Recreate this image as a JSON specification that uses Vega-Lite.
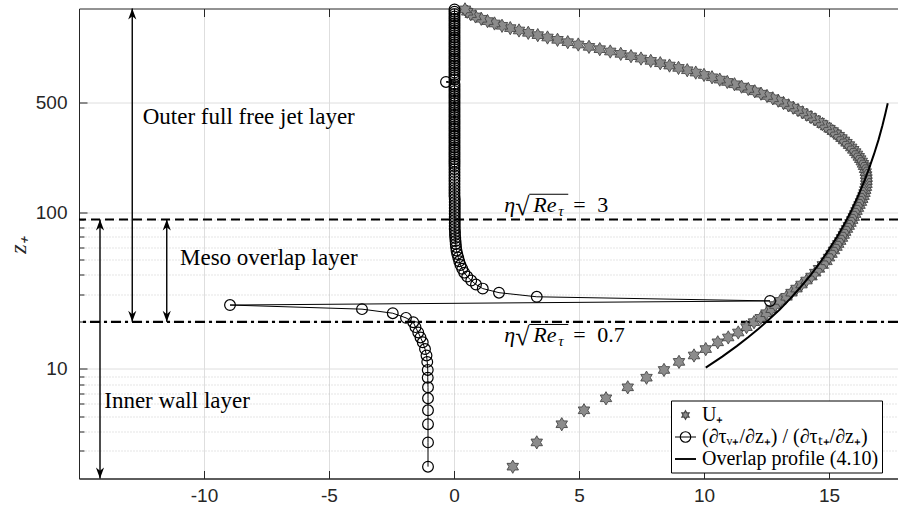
{
  "$schema": "https://vega.github.io/schema/vega-lite/v6.json",
  "width": 819,
  "height": 470,
  "autosize": {"type": "none"},
  "padding": {"left": 79, "top": 8.5, "right": 0, "bottom": 26.5},
  "background": "white",
  "config": {
    "view": {"stroke": "#262626", "strokeWidth": 1},
    "axis": {"labelFont": "Liberation Sans", "labelFontSize": 19, "labelColor": "#262626", "tickColor": "#262626", "domainColor": "#262626", "tickWidth": 1, "domainWidth": 1},
    "legend": {"orient": "none", "legendX": 592, "legendY": 392, "strokeColor": "black", "strokeWidth": 1, "fillColor": "white", "padding": 3, "labelFont": "Liberation Serif", "labelFontSize": 20, "labelColor": "black", "labelLimit": 400, "symbolSize": 441, "symbolStrokeWidth": 1.2, "labelOffset": 5, "rowPadding": 0}
  },
  "datasets": {
    "levels": [{"eta": "3", "z": 90}, {"eta": "0.7", "z": 20}],
    "arrows": [{"x": -14.16, "z": 2, "z2": 90}, {"x": -12.87, "z": 20, "z2": 2000}, {"x": -11.49, "z": 20, "z2": 90}],
    "notes": [{"x": -12.45, "z": 366, "text": "Outer full free jet layer"}, {"x": -10.96, "z": 46.1, "text": "Meso overlap layer"}, {"x": -13.99, "z": 5.61, "text": "Inner wall layer"}],
    "eta": [{"x": 2.01, "z": 101, "val": "3"}, {"x": 2.01, "z": 14.9, "val": "0.7"}],
    "overlap": [{"x": 10.07, "z": 10.2}, {"x": 10.73, "z": 12}, {"x": 11.31, "z": 14}, {"x": 11.78, "z": 16}, {"x": 12.17, "z": 18}, {"x": 12.5, "z": 20}, {"x": 13.03, "z": 24}, {"x": 13.44, "z": 28}, {"x": 13.84, "z": 33}, {"x": 14.28, "z": 40}, {"x": 14.65, "z": 48}, {"x": 15.0, "z": 58}, {"x": 15.33, "z": 70}, {"x": 15.63, "z": 85}, {"x": 15.86, "z": 100}, {"x": 16.14, "z": 125}, {"x": 16.39, "z": 155}, {"x": 16.6, "z": 190}, {"x": 16.8, "z": 235}, {"x": 16.98, "z": 290}, {"x": 17.14, "z": 360}, {"x": 17.26, "z": 430}, {"x": 17.35, "z": 497}],
    "prof": [
      {"z": 2.38, "U": 2.35, "R": -1.04}, {"z": 3.4, "U": 3.31, "R": -1.04}, {"z": 4.44, "U": 4.31, "R": -1.04}, {"z": 5.45, "U": 5.2, "R": -1.04}, {"z": 6.5, "U": 6.08, "R": -1.04}, {"z": 7.64, "U": 6.95, "R": -1.04}, {"z": 8.8, "U": 7.7, "R": -1.05}, {"z": 9.86, "U": 8.4, "R": -1.05}, {"z": 11.1, "U": 9.0, "R": -1.07}, {"z": 12.2, "U": 9.6, "R": -1.1}, {"z": 13.4, "U": 10.07, "R": -1.16}, {"z": 14.8, "U": 10.55, "R": -1.25}, {"z": 15.9, "U": 10.97, "R": -1.34}, {"z": 17.1, "U": 11.37, "R": -1.43}, {"z": 18.5, "U": 11.7, "R": -1.54}, {"z": 19.9, "U": 12.0, "R": -1.63}, {"z": 21.2, "U": 12.27, "R": -1.92}, {"z": 22.7, "U": 12.5, "R": -2.45}, {"z": 24.1, "U": 12.7, "R": -3.68}, {"z": 25.6, "U": 12.85, "R": -8.96},
      {"z": 27.2, "U": 13.05, "R": 12.64}, {"z": 28.9, "U": 13.3, "R": 3.31}, {"z": 30.7, "U": 13.5, "R": 1.8}, {"z": 32.6, "U": 13.7, "R": 1.15}, {"z": 34.6, "U": 13.9, "R": 0.88}, {"z": 36.7, "U": 14.1, "R": 0.69}, {"z": 38.9, "U": 14.3, "R": 0.53}, {"z": 41.2, "U": 14.45, "R": 0.41}, {"z": 43.6, "U": 14.6, "R": 0.33}, {"z": 46.1, "U": 14.75, "R": 0.26}, {"z": 48.7, "U": 14.9, "R": 0.21}, {"z": 51.4, "U": 15.0, "R": 0.17}, {"z": 54.2, "U": 15.1, "R": 0.13}, {"z": 57.1, "U": 15.2, "R": 0.1}, {"z": 60.1, "U": 15.3, "R": 0.08}, {"z": 62.8, "U": 15.37, "R": 0.07}, {"z": 65.6, "U": 15.45, "R": 0.06}, {"z": 68.6, "U": 15.52, "R": 0.05}, {"z": 71.7, "U": 15.59, "R": 0.04}, {"z": 74.9, "U": 15.65, "R": 0.04},
      {"z": 78.3, "U": 15.72, "R": 0.03}, {"z": 81.8, "U": 15.79, "R": 0.03}, {"z": 85.5, "U": 15.86, "R": 0.03}, {"z": 89.3, "U": 15.93, "R": 0.03}, {"z": 93.3, "U": 15.99, "R": 0.03}, {"z": 97.5, "U": 16.05, "R": 0.03}, {"z": 101.9, "U": 16.1, "R": 0.03}, {"z": 106.5, "U": 16.16, "R": 0.03}, {"z": 111.3, "U": 16.22, "R": 0.03}, {"z": 116.3, "U": 16.28, "R": 0.03}, {"z": 121.5, "U": 16.33, "R": 0.03}, {"z": 127, "U": 16.38, "R": 0.02}, {"z": 132.7, "U": 16.42, "R": 0.02}, {"z": 138.7, "U": 16.45, "R": 0.02}, {"z": 144.9, "U": 16.48, "R": 0.02}, {"z": 151.4, "U": 16.5, "R": 0.02}, {"z": 158.2, "U": 16.5, "R": 0.02}, {"z": 165.3, "U": 16.5, "R": 0.02}, {"z": 172.7, "U": 16.49, "R": 0.02}, {"z": 180.5, "U": 16.47, "R": 0.02},
      {"z": 188.6, "U": 16.44, "R": 0.02}, {"z": 197.1, "U": 16.4, "R": 0.02}, {"z": 204, "U": 16.36, "R": 0.02}, {"z": 211, "U": 16.31, "R": 0.02}, {"z": 218.4, "U": 16.25, "R": 0.02}, {"z": 226, "U": 16.19, "R": 0.02}, {"z": 234, "U": 16.12, "R": 0.02}, {"z": 242.2, "U": 16.05, "R": 0.02}, {"z": 250.6, "U": 15.97, "R": 0.02}, {"z": 259.4, "U": 15.89, "R": 0.02}, {"z": 268.5, "U": 15.8, "R": 0.02}, {"z": 277.9, "U": 15.7, "R": 0.02}, {"z": 287.6, "U": 15.6, "R": 0.02}, {"z": 297.7, "U": 15.5, "R": 0.02}, {"z": 308.1, "U": 15.39, "R": 0.02}, {"z": 318.9, "U": 15.27, "R": 0.02}, {"z": 330, "U": 15.15, "R": 0.02}, {"z": 341.6, "U": 15.02, "R": 0.02}, {"z": 353.5, "U": 14.88, "R": 0.02}, {"z": 365.9, "U": 14.74, "R": 0.02},
      {"z": 378.7, "U": 14.59, "R": 0.02}, {"z": 392, "U": 14.44, "R": 0.02}, {"z": 405.7, "U": 14.28, "R": 0.02}, {"z": 419.9, "U": 14.11, "R": 0.02}, {"z": 434.6, "U": 13.94, "R": 0.02}, {"z": 449.8, "U": 13.76, "R": 0.02}, {"z": 465.5, "U": 13.57, "R": 0.02}, {"z": 481.8, "U": 13.38, "R": 0.02}, {"z": 498.7, "U": 13.18, "R": 0.02}, {"z": 516.1, "U": 12.97, "R": 0.02}, {"z": 534.2, "U": 12.75, "R": 0.02}, {"z": 552.9, "U": 12.52, "R": 0.02}, {"z": 572.2, "U": 12.28, "R": 0.02}, {"z": 592.2, "U": 12.03, "R": 0.02}, {"z": 612.9, "U": 11.77, "R": 0.02}, {"z": 634.4, "U": 11.5, "R": 0.02}, {"z": 656.6, "U": 11.22, "R": 0.02}, {"z": 679.6, "U": 10.93, "R": -0.32}, {"z": 703.4, "U": 10.63, "R": 0.02}, {"z": 728, "U": 10.32, "R": 0.02},
      {"z": 753.5, "U": 10.0, "R": 0.02}, {"z": 779.9, "U": 9.67, "R": 0.02}, {"z": 807.2, "U": 9.33, "R": 0.02}, {"z": 835.4, "U": 8.98, "R": 0.02}, {"z": 864.6, "U": 8.62, "R": 0.02}, {"z": 894.9, "U": 8.25, "R": 0.02}, {"z": 926.2, "U": 7.87, "R": 0.02}, {"z": 958.6, "U": 7.48, "R": 0.02}, {"z": 992.2, "U": 7.08, "R": 0.02}, {"z": 1027, "U": 6.67, "R": 0.02}, {"z": 1063, "U": 6.25, "R": 0.02}, {"z": 1100, "U": 5.83, "R": 0.02}, {"z": 1138, "U": 5.4, "R": 0.02}, {"z": 1178, "U": 4.97, "R": 0.02}, {"z": 1219, "U": 4.55, "R": 0.02}, {"z": 1262, "U": 4.14, "R": 0.02}, {"z": 1306, "U": 3.74, "R": 0.02}, {"z": 1352, "U": 3.35, "R": 0.02}, {"z": 1399, "U": 2.97, "R": 0.02}, {"z": 1448, "U": 2.6, "R": 0.02},
      {"z": 1499, "U": 2.25, "R": 0.02}, {"z": 1551, "U": 1.92, "R": 0.02}, {"z": 1605, "U": 1.62, "R": 0.02}, {"z": 1662, "U": 1.34, "R": 0.02}, {"z": 1720, "U": 1.09, "R": 0.02}, {"z": 1780, "U": 0.86, "R": 0.02}, {"z": 1842, "U": 0.67, "R": 0.02}, {"z": 1907, "U": 0.53, "R": 0.02}, {"z": 1974, "U": 0.44, "R": 0.02}
    ]
  },
  "resolve": {"axis": {"x": "independent", "y": "independent"}},
  "layer": [
    {
      "data": {"name": "levels"},
      "mark": {"type": "rule", "color": "black", "strokeWidth": 2.2},
      "encoding": {
        "y": {"field": "z", "type": "quantitative", "scale": {"type": "log", "domain": [2, 2000], "nice": false},
              "axis": {"orient": "left", "values": [3, 4, 5, 6, 7, 8, 9, 20, 30, 40, 50, 60, 70, 80, 90], "grid": true, "gridDash": [1, 2], "gridColor": "#bdbdbd", "gridWidth": 0.8, "labels": false, "domain": false, "ticks": true, "tickSize": -5, "title": null}},
        "strokeDash": {"field": "eta", "type": "nominal", "scale": {"domain": ["3", "0.7"], "range": [[9, 5], [10, 4, 3, 4]]}, "legend": null}
      }
    },
    {
      "data": {"name": "arrows"},
      "mark": {"type": "rule", "color": "black", "strokeWidth": 1.4},
      "encoding": {
        "x": {"field": "x", "type": "quantitative", "scale": {"domain": [-15, 17.76], "nice": false, "zero": false}, "axis": null},
        "y": {"field": "z", "type": "quantitative", "scale": {"type": "log", "domain": [2, 2000], "nice": false}, "axis": null},
        "y2": {"field": "z2"}
      }
    },
    {
      "data": {"name": "arrows"},
      "mark": {"type": "point", "shape": "M0,0L0.37,1L0,0.7L-0.37,1Z", "size": 484, "filled": true, "color": "black", "opacity": 1},
      "encoding": {
        "x": {"field": "x", "type": "quantitative", "scale": {"domain": [-15, 17.76], "nice": false, "zero": false}, "axis": null},
        "y": {"field": "z2", "type": "quantitative", "scale": {"type": "log", "domain": [2, 2000], "nice": false}, "axis": null}
      }
    },
    {
      "data": {"name": "arrows"},
      "mark": {"type": "point", "shape": "M0,0L0.37,-1L0,-0.7L-0.37,-1Z", "size": 484, "filled": true, "color": "black", "opacity": 1},
      "encoding": {
        "x": {"field": "x", "type": "quantitative", "scale": {"domain": [-15, 17.76], "nice": false, "zero": false}, "axis": null},
        "y": {"field": "z", "type": "quantitative", "scale": {"type": "log", "domain": [2, 2000], "nice": false}, "axis": null}
      }
    },
    {
      "data": {"name": "notes"},
      "mark": {"type": "text", "font": "Liberation Serif", "fontSize": 23, "align": "left", "baseline": "alphabetic", "color": "black"},
      "encoding": {
        "x": {"field": "x", "type": "quantitative", "scale": {"domain": [-15, 17.76], "nice": false, "zero": false}, "axis": null},
        "y": {"field": "z", "type": "quantitative", "scale": {"type": "log", "domain": [2, 2000], "nice": false}, "axis": null},
        "text": {"field": "text"}
      }
    },
    {
      "data": {"name": "eta"},
      "mark": {"type": "text", "text": "η", "font": "Liberation Serif", "fontStyle": "italic", "fontSize": 22, "align": "left", "baseline": "alphabetic", "color": "black"},
      "encoding": {
        "x": {"field": "x", "type": "quantitative", "scale": {"domain": [-15, 17.76], "nice": false, "zero": false}, "axis": null},
        "y": {"field": "z", "type": "quantitative", "scale": {"type": "log", "domain": [2, 2000], "nice": false}, "axis": null}
      }
    },
    {
      "data": {"name": "eta"},
      "mark": {"type": "text", "text": "√", "dx": 11, "dy": 3, "font": "Liberation Serif", "fontSize": 26, "align": "left", "baseline": "alphabetic", "color": "black"},
      "encoding": {
        "x": {"field": "x", "type": "quantitative", "scale": {"domain": [-15, 17.76], "nice": false, "zero": false}, "axis": null},
        "y": {"field": "z", "type": "quantitative", "scale": {"type": "log", "domain": [2, 2000], "nice": false}, "axis": null}
      }
    },
    {
      "data": {"name": "eta"},
      "mark": {"type": "text", "text": "Re", "dx": 29, "font": "Liberation Serif", "fontStyle": "italic", "fontSize": 22, "align": "left", "baseline": "alphabetic", "color": "black"},
      "encoding": {
        "x": {"field": "x", "type": "quantitative", "scale": {"domain": [-15, 17.76], "nice": false, "zero": false}, "axis": null},
        "y": {"field": "z", "type": "quantitative", "scale": {"type": "log", "domain": [2, 2000], "nice": false}, "axis": null}
      }
    },
    {
      "data": {"name": "eta"},
      "mark": {"type": "text", "text": "τ", "dx": 54, "dy": 4, "font": "Liberation Serif", "fontStyle": "italic", "fontSize": 15, "align": "left", "baseline": "alphabetic", "color": "black"},
      "encoding": {
        "x": {"field": "x", "type": "quantitative", "scale": {"domain": [-15, 17.76], "nice": false, "zero": false}, "axis": null},
        "y": {"field": "z", "type": "quantitative", "scale": {"type": "log", "domain": [2, 2000], "nice": false}, "axis": null}
      }
    },
    {
      "data": {"name": "eta"},
      "mark": {"type": "text", "text": "=", "dx": 69, "font": "Liberation Serif", "fontSize": 22, "align": "left", "baseline": "alphabetic", "color": "black"},
      "encoding": {
        "x": {"field": "x", "type": "quantitative", "scale": {"domain": [-15, 17.76], "nice": false, "zero": false}, "axis": null},
        "y": {"field": "z", "type": "quantitative", "scale": {"type": "log", "domain": [2, 2000], "nice": false}, "axis": null}
      }
    },
    {
      "data": {"name": "eta"},
      "mark": {"type": "text", "dx": 93, "font": "Liberation Serif", "fontSize": 22, "align": "left", "baseline": "alphabetic", "color": "black"},
      "encoding": {
        "x": {"field": "x", "type": "quantitative", "scale": {"domain": [-15, 17.76], "nice": false, "zero": false}, "axis": null},
        "y": {"field": "z", "type": "quantitative", "scale": {"type": "log", "domain": [2, 2000], "nice": false}, "axis": null},
        "text": {"field": "val"}
      }
    },
    {
      "data": {"name": "eta"},
      "mark": {"type": "rule", "color": "black", "strokeWidth": 1, "xOffset": 25, "x2Offset": 64, "yOffset": -17.4},
      "encoding": {
        "x": {"field": "x", "type": "quantitative", "scale": {"domain": [-15, 17.76], "nice": false, "zero": false}, "axis": null},
        "x2": {"field": "x"},
        "y": {"field": "z", "type": "quantitative", "scale": {"type": "log", "domain": [2, 2000], "nice": false}, "axis": null}
      }
    },
    {
      "data": {"name": "prof"},
      "mark": {"type": "point", "filled": true, "size": 1100, "opacity": 1, "strokeWidth": 0.9},
      "encoding": {
        "x": {"field": "U", "type": "quantitative", "scale": {"domain": [-15, 17.76], "nice": false, "zero": false},
              "axis": {"orient": "bottom", "values": [-10, -5, 0, 5, 10, 15], "labelExpr": "'' + datum.value", "grid": true, "gridColor": "#dedede", "gridWidth": 1, "tickSize": -8, "labelPadding": 16, "title": null}},
        "y": {"field": "z", "type": "quantitative", "scale": {"type": "log", "domain": [2, 2000], "nice": false},
              "axis": {"orient": "left", "values": [10, 100, 500], "labelExpr": "'' + datum.value", "grid": true, "gridColor": "#dedede", "gridWidth": 1, "tickSize": -8, "labelPadding": 20,
                       "title": "z₊", "titleFont": "Liberation Serif", "titleFontStyle": "italic", "titleFontWeight": "normal", "titleFontSize": 24, "titleColor": "#262626", "titleAngle": 270, "titleX": -61, "titleY": 236, "titleAlign": "center", "titleBaseline": "middle"}},
        "shape": {"datum": "U₊",
                  "scale": {"domain": ["U₊", "(∂τᵥ₊/∂z₊) / (∂τₜ₊/∂z₊)", "Overlap profile (4.10)"],
                            "range": ["M0,-0.4L0.1155,-0.2L0.3464,-0.2L0.2309,0L0.3464,0.2L0.1155,0.2L0,0.4L-0.1155,0.2L-0.3464,0.2L-0.2309,0L-0.3464,-0.2L-0.1155,-0.2Z", "M-1,0L1,0M0.5,0A0.5,0.5,0,1,1,-0.5,0A0.5,0.5,0,1,1,0.5,0", "M-1,-0.09L1,-0.09L1,0.09L-1,0.09Z"]},
                  "legend": {"title": null}},
        "fill": {"datum": "U₊",
                 "scale": {"domain": ["U₊", "(∂τᵥ₊/∂z₊) / (∂τₜ₊/∂z₊)", "Overlap profile (4.10)"], "range": ["#8c8c8c", "transparent", "black"]},
                 "legend": {"title": null}},
        "stroke": {"datum": "U₊",
                   "scale": {"domain": ["U₊", "(∂τᵥ₊/∂z₊) / (∂τₜ₊/∂z₊)", "Overlap profile (4.10)"], "range": ["#454545", "black", "transparent"]},
                   "legend": {"title": null}}
      }
    },
    {
      "data": {"name": "prof"},
      "mark": {"type": "line", "color": "black", "strokeWidth": 1},
      "encoding": {
        "x": {"field": "R", "type": "quantitative", "scale": {"domain": [-15, 17.76], "nice": false, "zero": false},
              "axis": {"orient": "top", "values": [-10, -5, 0, 5, 10, 15], "labels": false, "grid": false, "domain": false, "tickSize": -8, "title": null}},
        "y": {"field": "z", "type": "quantitative", "scale": {"type": "log", "domain": [2, 2000], "nice": false}, "axis": null},
        "order": {"field": "z", "type": "quantitative"}
      }
    },
    {
      "data": {"name": "prof"},
      "mark": {"type": "point", "shape": "circle", "filled": false, "stroke": "black", "strokeWidth": 1.2, "size": 115, "opacity": 1},
      "encoding": {
        "x": {"field": "R", "type": "quantitative", "scale": {"domain": [-15, 17.76], "nice": false, "zero": false}, "axis": null},
        "y": {"field": "z", "type": "quantitative", "scale": {"type": "log", "domain": [2, 2000], "nice": false}, "axis": null}
      }
    },
    {
      "data": {"name": "overlap"},
      "mark": {"type": "line", "color": "black", "strokeWidth": 2},
      "encoding": {
        "x": {"field": "x", "type": "quantitative", "scale": {"domain": [-15, 17.76], "nice": false, "zero": false}, "axis": null},
        "y": {"field": "z", "type": "quantitative", "scale": {"type": "log", "domain": [2, 2000], "nice": false}, "axis": null},
        "order": {"field": "z", "type": "quantitative"}
      }
    }
  ]
}
